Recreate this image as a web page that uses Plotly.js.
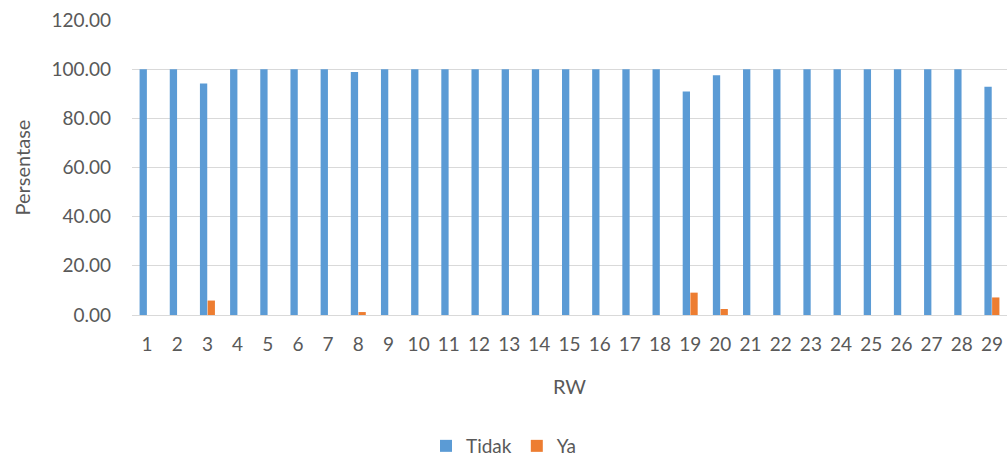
<!DOCTYPE html>
<html><head><meta charset="utf-8">
<script src="https://cdn.plot.ly/plotly-3.0.1.min.js"></script>
<style>body{margin:0;background:#fff}#c{width:1008px;height:465px}</style>
</head><body><div id="c"></div>
<script>
const categories = ['1','2','3','4','5','6','7','8','9','10','11','12','13','14','15','16','17','18','19','20','21','22','23','24','25','26','27','28','29'];
const tidak = [100,100,94.12,100,100,100,100,98.8,100,100,100,100,100,100,100,100,100,100,90.91,97.56,100,100,100,100,100,100,100,100,92.86];
const ya = [0,0,5.88,0,0,0,0,1.2,0,0,0,0,0,0,0,0,0,0,9.09,2.44,0,0,0,0,0,0,0,0,7.14];
const yTicks = [0,20,40,60,80,100,120];

const font = {family:'Lato, "Open Sans", sans-serif', color:'#595959', size:19};
const titleFont = {family:'Lato, "Open Sans", sans-serif', color:'#595959', size:20};
const traces = [
  {type:'bar', name:'Tidak', x:categories, y:tidak, marker:{color:'#5B9BD5'}},
  {type:'bar', name:'Ya', x:categories, y:ya, marker:{color:'#ED7D31'}}
];
const layout = {
  width:1008, height:465,
  margin:{l:132, r:1, t:20, b:150},
  paper_bgcolor:'#fff', plot_bgcolor:'#fff',
  font:font,
  barmode:'group', bargap:0.49, bargroupgap:0.05,
  showlegend:true,
  legend:{orientation:'h', xref:'container', yref:'container', x:0.5, xanchor:'center', y:0.0, yanchor:'bottom', font:font, itemwidth:20, traceorder:'normal'},
  xaxis:{type:'category', tickvals:categories, ticktext:categories, showgrid:false, showline:true, linecolor:'#d9d9d9', linewidth:1, ticks:'', ticklabelstandoff:12, tickfont:font, title:{text:'RW', font:titleFont, standoff:26}},
  yaxis:{range:[0,120], tickvals:yTicks, ticktext:yTicks.map(v=>v.toFixed(2)), showgrid:true, gridcolor:'#d9d9d9', gridwidth:1, zeroline:false, showline:false, ticks:'', ticklabelstandoff:20, tickfont:font, title:{text:'Persentase', font:titleFont, standoff:15}}
};
Plotly.newPlot('c', traces, layout, {displayModeBar:false, staticPlot:true});
</script></body></html>
